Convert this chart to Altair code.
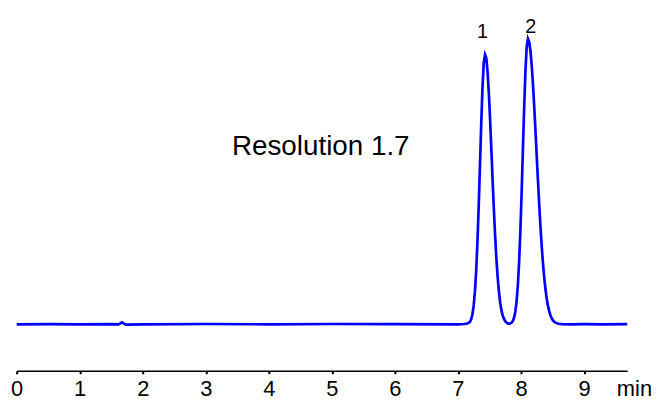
import altair as alt
import pandas as pd

# Chromatogram trace (time in min, signal in % of peak 2)
baseline_t = [0.00, 0.50, 1.00, 1.50, 1.62, 1.65, 1.67, 1.69, 1.72, 1.74, 2.00,
              3.00, 4.00, 5.00, 6.00, 7.00, 7.10, 7.15]
baseline_s = [0.00, 0.05, -0.05, 0.05, 0.00, 0.40, 0.70, 0.40, 0.00, -0.10, 0.00,
              0.10, 0.00, 0.10, 0.05, 0.00, 0.10, 0.30]

peak1_t = [7.19, 7.21, 7.23, 7.25, 7.27, 7.29, 7.31, 7.33, 7.35, 7.37, 7.39, 7.41,
           7.43, 7.45, 7.47, 7.49, 7.51, 7.53, 7.55, 7.57, 7.59, 7.61, 7.63, 7.65,
           7.67, 7.69, 7.71, 7.73, 7.75, 7.77, 7.79]
peak1_s = [0.83, 1.77, 3.54, 6.61, 11.6, 18.9, 29.1, 41.7, 56.0, 70.5, 83.1, 91.7,
           94.4, 93.2, 88.4, 81.0, 71.7, 61.3, 50.5, 40.3, 31.0, 23.0, 16.5, 11.5,
           7.66, 4.95, 3.09, 1.86, 1.08, 0.61, 0.33]

peak2_t = [7.81, 7.83, 7.85, 7.87, 7.89, 7.91, 7.93, 7.95, 7.97, 7.99, 8.01, 8.03,
           8.05, 8.07, 8.09, 8.11, 8.13, 8.15, 8.17, 8.19, 8.21, 8.23, 8.25, 8.27,
           8.29, 8.31, 8.33, 8.35, 8.37, 8.39, 8.41, 8.43, 8.45, 8.47, 8.49, 8.51,
           8.54, 8.59, 8.65]
peak2_s = [0.26, 0.31, 0.55, 1.11, 2.28, 4.39, 7.96, 13.5, 21.6, 32.5, 45.8, 60.7,
           75.5, 88.3, 96.9, 100.0, 98.9, 95.8, 90.7, 84.1, 76.3, 67.8, 58.9, 50.1,
           41.7, 33.9, 27.0, 21.1, 16.1, 12.0, 8.78, 6.28, 4.39, 3.01, 2.02, 1.32,
           0.67, 0.20, 0.05]

tail_t = [8.80, 9.00, 9.30, 9.685]
tail_s = [0.00, 0.05, 0.00, 0.05]

tick_values = [0, 1, 2, 3, 4, 5, 6, 7, 8, 9]
x_domain = [0, 9.685]
y_domain = [-16.27, 108.86]

peak_labels = ["1", "2"]
peak_label_t = [7.39, 8.155]
peak_label_s = [100.4, 101.9]

annotation_text = ["Resolution 1.7"]
annotation_t = [4.824]
annotation_s = [59.2]

unit_text = ["min"]
unit_t = [9.80]
unit_s = [-24.96]

trace = pd.DataFrame({
    "t": baseline_t + peak1_t + peak2_t + tail_t,
    "s": baseline_s + peak1_s + peak2_s + tail_s,
})

FONT = "Liberation Sans"

x_enc = alt.X(
    "t:Q",
    scale=alt.Scale(domain=x_domain, nice=False, zero=False),
    axis=alt.Axis(
        values=tick_values, format="d", title=None, grid=False,
        domainColor="black", domainWidth=1.6,
        tickColor="black", tickSize=3, tickWidth=2,
        labelFont=FONT, labelFontSize=22, labelColor="black",
        labelPadding=5, labelFlush=False, labelOverlap=False,
    ),
)
y_enc = alt.Y("s:Q", scale=alt.Scale(domain=y_domain, nice=False, zero=False), axis=None)

line = alt.Chart(trace).mark_line(color="#0000FF", strokeWidth=2.7).encode(
    x=x_enc, y=y_enc, order="t:Q"
)

peaks = alt.Chart(pd.DataFrame({"t": peak_label_t, "s": peak_label_s, "label": peak_labels})).mark_text(
    font=FONT, fontSize=20, color="black", baseline="alphabetic", align="center"
).encode(
    x=alt.X("t:Q", scale=alt.Scale(domain=x_domain, nice=False, zero=False)),
    y=alt.Y("s:Q", scale=alt.Scale(domain=y_domain, nice=False, zero=False)),
    text="label:N",
)

annot = alt.Chart(pd.DataFrame({"t": annotation_t, "s": annotation_s, "label": annotation_text})).mark_text(
    font=FONT, fontSize=28, color="black", baseline="alphabetic", align="center"
).encode(
    x=alt.X("t:Q", scale=alt.Scale(domain=x_domain, nice=False, zero=False)),
    y=alt.Y("s:Q", scale=alt.Scale(domain=y_domain, nice=False, zero=False)),
    text="label:N",
)

unit = alt.Chart(pd.DataFrame({"t": unit_t, "s": unit_s, "label": unit_text})).mark_text(
    font=FONT, fontSize=22, color="black", baseline="alphabetic", align="center"
).encode(
    x=alt.X("t:Q", scale=alt.Scale(domain=x_domain, nice=False, zero=False)),
    y=alt.Y("s:Q", scale=alt.Scale(domain=y_domain, nice=False, zero=False)),
    text="label:N",
)

chart = alt.layer(line, peaks, annot, unit).properties(
    width=615,
    height=360,
    autosize=alt.AutoSizeParams(type="none"),
    padding={"left": 8.7, "top": 4, "right": 28, "bottom": 29},
    background="white",
).configure_view(strokeWidth=0)

chart.save("out.html", embed_options={"renderer": "svg", "actions": False})
